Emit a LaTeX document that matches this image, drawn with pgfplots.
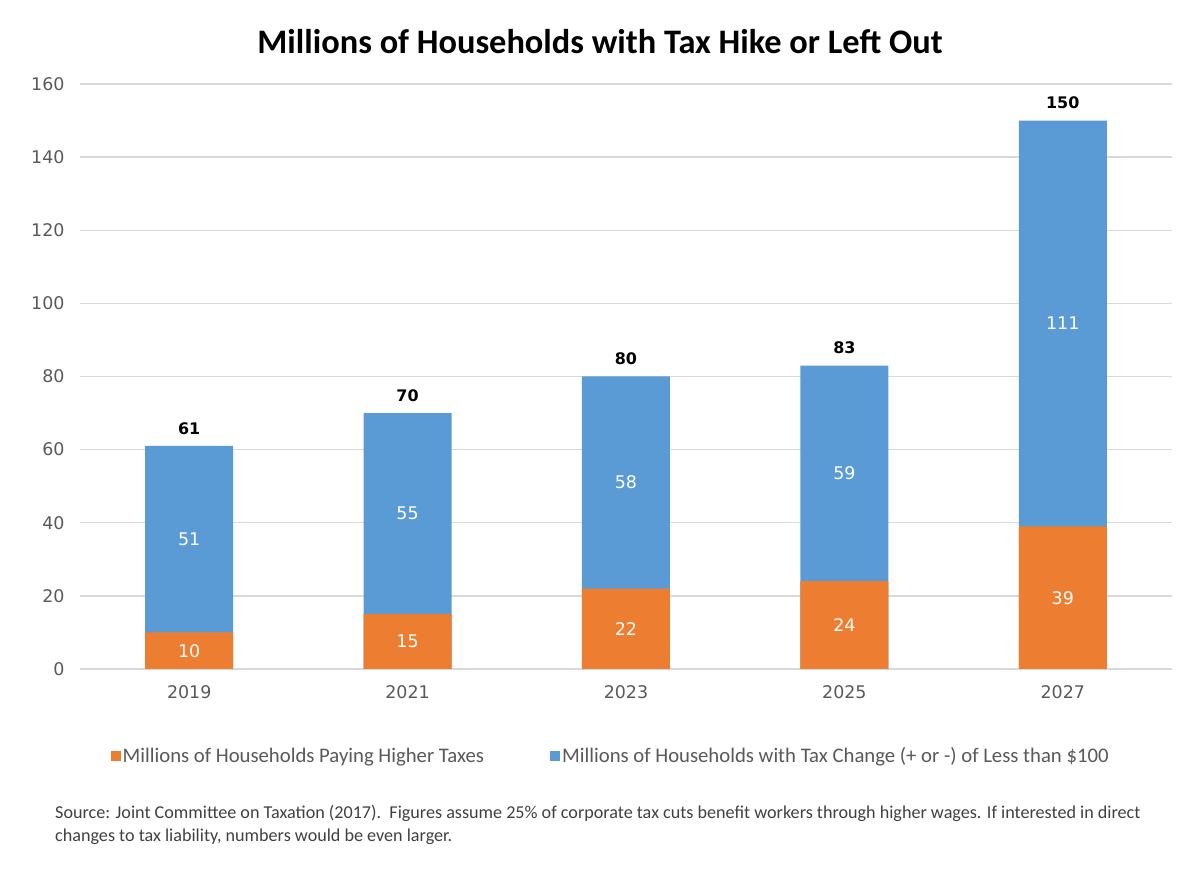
\documentclass[border=0pt]{standalone}
\usepackage{pgfplots}
\pgfplotsset{compat=1.18}
\usepackage{pgfplotstable}
\usepackage{fontspec}
\setmainfont{Carlito}
\newfontfamily\dejavu{DejaVu Sans}
\definecolor{hike}{HTML}{ED7D31}
\definecolor{small}{HTML}{5B9BD5}
\definecolor{gridgray}{HTML}{D9D9D9}
\definecolor{ticktext}{HTML}{595959}
\definecolor{srcgray}{HTML}{404040}

% households in millions: paying higher taxes / change of less than $100
\pgfplotstableread{
x year hike small
0 2019 10 51
1 2021 15 55
2 2023 22 58
3 2025 24 59
4 2027 39 111
}\households

\begin{document}
\begin{tikzpicture}
\path[use as bounding box] (0,0) rectangle (1200bp,869bp);
\node[font=\fontsize{34.5}{40}\selectfont\bfseries] at (600bp,827bp)
  {Millions of Households with Tax Hike or Left Out};
\begin{axis}[
    at={(80bp,200bp)}, anchor=south west,
    scale only axis, width=1092bp, height=585bp,
    xmin=-0.5, xmax=4.5, ymin=0, ymax=160,
    ytick={0,20,...,160},
    xtick={0,...,4}, xticklabels={2019,2021,2023,2025,2027},
    ymajorgrids, grid style={gridgray, line width=1.3bp},
    axis line style={draw=none}, major tick length=0pt,
    /pgf/number format/assume math mode=true,
    tick label style={font=\dejavu\fontsize{17.5}{21}\selectfont, text=ticktext},
    yticklabel style={xshift=-12bp},
    xticklabel style={yshift=-13bp},
    clip=false,
    legend columns=2,
    legend style={at={(0.486,-0.149)}, anchor=center, draw=none,
        font=\fontsize{20.8}{24}\selectfont, text=ticktext,
        /tikz/every even column/.append style={column sep=64bp}},
    legend image code/.code={\path[#1] (0bp,-5bp) rectangle (10bp,5bp);},
]
\addlegendimage{fill=hike, draw=none}
\addlegendentry{Millions of Households Paying Higher Taxes}
\addlegendimage{fill=small, draw=none}
\addlegendentry{Millions of Households with Tax Change (+ or -) of Less than \$100}

% blue bars reach the total, orange drawn over the lower part
\addplot[forget plot, ybar, bar width=88bp, fill=small, draw=none]
  table[x=x, y expr=\thisrow{hike}+\thisrow{small}] {\households};
\addplot[forget plot, ybar, bar width=88bp, fill=hike, draw=none]
  table[x=x, y=hike] {\households};

% segment labels
\addplot[forget plot, only marks, mark=none, nodes near coords, point meta=explicit,
  nodes near coords style={anchor=center, text=white, font=\dejavu\fontsize{17.5}{21}\selectfont}]
  table[x=x, y expr=\thisrow{hike}/2, meta=hike] {\households};
\addplot[forget plot, only marks, mark=none, nodes near coords, point meta=explicit,
  nodes near coords style={anchor=center, text=white, font=\dejavu\fontsize{17.5}{21}\selectfont}]
  table[x=x, y expr=\thisrow{hike}+\thisrow{small}/2, meta=small] {\households};
% totals
\addplot[forget plot, only marks, mark=none, nodes near coords,
  point meta={\thisrow{hike}+\thisrow{small}},
  nodes near coords style={anchor=south, yshift=8bp, text=black, font=\dejavu\bfseries\fontsize{16}{19}\selectfont}]
  table[x=x, y expr=\thisrow{hike}+\thisrow{small}] {\households};
\end{axis}
\node[anchor=base west, inner sep=0, text=srcgray, font=\fontsize{18.2}{22}\selectfont] at (55bp,50bp)
  {Source: Joint Committee on Taxation (2017).\ \ Figures assume 25\% of corporate tax cuts benefit workers through higher wages. If interested in direct};
\node[anchor=base west, inner sep=0, text=srcgray, font=\fontsize{18.2}{22}\selectfont] at (55bp,28bp)
  {changes to tax liability, numbers would be even larger.};
\end{tikzpicture}
\end{document}
